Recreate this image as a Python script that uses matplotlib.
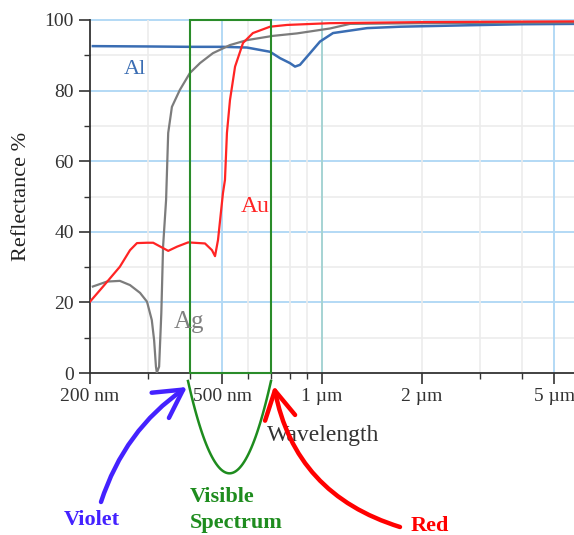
import numpy as np
import matplotlib
matplotlib.use("Agg")
import matplotlib.pyplot as plt
from matplotlib.patches import Rectangle

plt.rcParams['font.family'] = ['Liberation Serif', 'DejaVu Serif']

# reflectance curves, wavelength in nm, reflectance in %
al_wl = [204, 300, 400, 503, 594, 697, 747, 800, 829, 858, 920, 986, 1079, 1366, 1718, 2732, 4000, 5740]
al_r = [92.6, 92.5, 92.4, 92.4, 92.2, 91.0, 89.2, 87.8, 86.8, 87.3, 90.6, 93.9, 96.3, 97.7, 98.1, 98.5, 98.8, 98.9]

au_wl = [200, 219, 246, 264, 277, 297, 310, 344, 366, 395, 444, 466, 476, 486, 503, 510,
         517, 528, 547, 578, 619, 697, 784, 1057, 2000, 5740]
au_r = [20.2, 24.5, 30.1, 34.8, 36.8, 36.9, 36.9, 34.6, 35.8, 37.0, 36.7, 34.8, 33.1, 37.7, 51.0, 54.7,
        68.0, 77.3, 86.8, 93.5, 96.3, 98.1, 98.6, 99.1, 99.4, 99.6]

ag_wl = [204, 225, 246, 264, 283, 297, 307, 312, 316, 318, 323, 328, 332, 339, 344, 353, 373,
         400, 429, 469, 528, 594, 711, 840, 1057, 1214, 2000, 5740]
ag_r = [24.5, 25.9, 26.1, 24.9, 22.7, 20.2, 15.0, 9.3, 1.8, 0.1, 1.8, 17.0, 35.8, 49.0, 68.0, 75.4, 80.2,
        85.0, 87.8, 90.6, 92.9, 94.3, 95.5, 96.2, 97.6, 98.9, 99.1, 99.3]

major_x = [200, 500, 1000, 2000, 5000]
major_x_labels = ['200 nm', '500 nm', '1 µm', '2 µm', '5 µm']
minor_x = [300, 400, 600, 700, 800, 900, 3000, 4000]
visible = (400, 700)

fig = plt.figure(figsize=(5.74, 5.35), dpi=100)
ax = fig.add_axes([90 / 574, 162 / 535, 484 / 574, 353 / 535])
ax.set_xscale('log')
ax.set_xlim(200, 5740)
ax.set_ylim(0, 100)

# grid
for v in [10, 30, 50, 70, 90]:
    ax.axhline(v, color='#ececec', lw=1.2, zorder=0)
for v in [20, 40, 60, 80, 100]:
    ax.axhline(v, color='#b3d9f5', lw=1.4, zorder=0, clip_on=False)
for v in minor_x + [2000]:
    ax.axvline(v, color='#ececec', lw=1.2, zorder=0)
ax.axvline(500, color='#b3d9f5', lw=1.4, zorder=0)
ax.axvline(1000, color='#a5d3d3', lw=1.4, zorder=0)
ax.axvline(5000, color='#b3d9f5', lw=1.4, zorder=0)

ax.plot(al_wl, al_r, color='#3a6db3', lw=1.8, zorder=3)
ax.plot(ag_wl, ag_r, color='#7c7c7c', lw=1.6, zorder=3)
ax.plot(au_wl, au_r, color='#ff2424', lw=1.6, zorder=4)

# visible band box
ax.add_patch(Rectangle((visible[0], 0), visible[1] - visible[0], 100, fill=False,
                       edgecolor='#2a8c2a', lw=1.5, zorder=6, clip_on=False))

ax.set_xticks(major_x)
ax.set_xticklabels(major_x_labels)
ax.set_xticks(minor_x, minor=True)
ax.xaxis.set_minor_formatter(plt.NullFormatter())
ax.set_yticks([0, 20, 40, 60, 80, 100])
ax.set_yticks([10, 30, 50, 70, 90], minor=True)
ax.tick_params(which='major', length=8, width=1.2, color='#333333', labelsize=14,
               labelcolor='#333333', direction='out')
ax.tick_params(which='minor', length=4, width=1.0, color='#333333', direction='out')
ax.tick_params(axis='x', which='major', pad=3)
for s in ['top', 'right']:
    ax.spines[s].set_visible(False)
for s in ['left', 'bottom']:
    ax.spines[s].set_color('#333333')
    ax.spines[s].set_linewidth(1.3)

ax.set_ylabel('Reflectance %', fontsize=16, color='#222222', labelpad=10)

# overlay for labels and the hand-drawn notes (pixel coords)
ov = fig.add_axes([0, 0, 1, 1], zorder=10)
ov.set_xlim(0, 574)
ov.set_ylim(535, 0)
ov.axis('off')
ov.patch.set_alpha(0)

ov.text(135, 70, 'Al', color='#3a6db3', fontsize=16, ha='center', va='center')
ov.text(255, 207, 'Au', color='#ff2424', fontsize=17, ha='center', va='center')
ov.text(189, 322, 'Ag', color='#808080', fontsize=18, ha='center', va='center')

ov.text(323, 436, 'Wavelength', fontsize=17, color='#333333', ha='center', va='center')

px = np.array([188, 232, 271])
py = np.array([381, 473, 381])
coef = np.polyfit(px, py, 2)
xx = np.linspace(188, 271, 60)
ov.plot(xx, np.polyval(coef, xx), color='#1e8c1e', lw=1.8)

ov.annotate('', xy=(187, 387), xytext=(101, 502),
            arrowprops=dict(arrowstyle='->,head_length=1.0,head_width=0.55', color='#4422ff',
                            lw=3.2, mutation_scale=20, connectionstyle='arc3,rad=-0.17',
                            shrinkA=0, shrinkB=0))
ov.annotate('', xy=(274, 386), xytext=(400, 527),
            arrowprops=dict(arrowstyle='->,head_length=1.0,head_width=0.55', color='#ff0000',
                            lw=3.2, mutation_scale=20, connectionstyle='arc3,rad=-0.3',
                            shrinkA=0, shrinkB=0))

ov.text(92, 520, 'Violet', fontsize=16, fontweight='bold', color='#4422ff', ha='center', va='center')
ov.text(190, 497, 'Visible', fontsize=16, fontweight='bold', color='#1e8c1e', ha='left', va='center')
ov.text(190, 523, 'Spectrum', fontsize=16, fontweight='bold', color='#1e8c1e', ha='left', va='center')
ov.text(430, 526, 'Red', fontsize=16, fontweight='bold', color='#ff0000', ha='center', va='center')

fig.savefig('out.png', dpi=100)
